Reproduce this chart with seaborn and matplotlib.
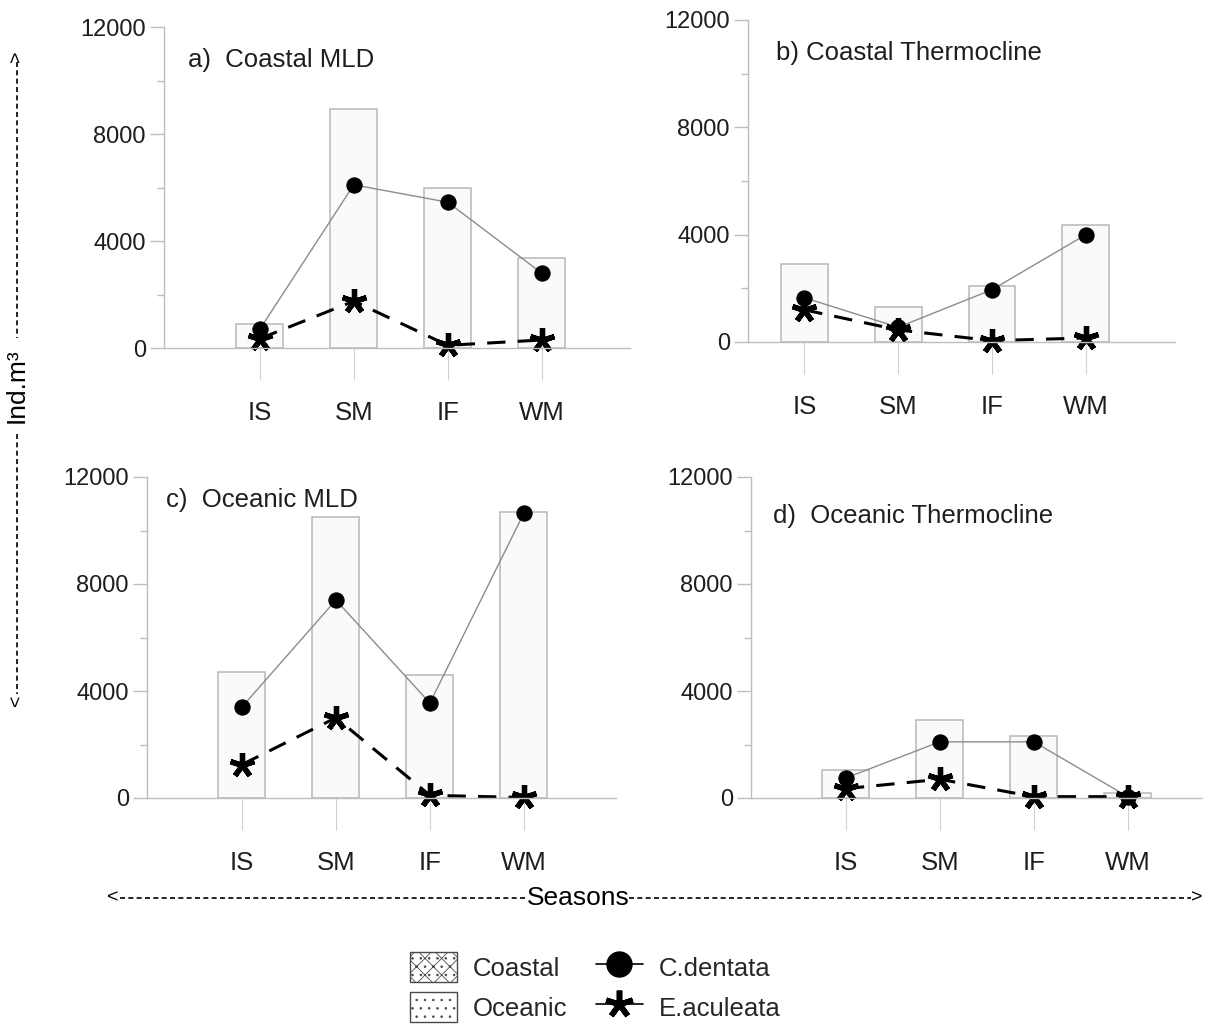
import numpy as np
import pandas as pd
import matplotlib
matplotlib.use("Agg")
import matplotlib.pyplot as plt
from matplotlib.ticker import MultipleLocator, FixedLocator
from matplotlib.lines import Line2D
from matplotlib.patches import Patch
import seaborn as sns

# ---- data -------------------------------------------------------------
seasons = ["IS", "SM", "IF", "WM"]

# total chaetognath abundance (bars), Ind.m^3
coastal_mld_total = [900, 8950, 6000, 3350]
coastal_thermo_total = [2900, 1300, 2100, 4350]
oceanic_mld_total = [4700, 10500, 4600, 10700]
oceanic_thermo_total = [1050, 2900, 2300, 200]

# C. dentata
coastal_mld_cd = [700, 6100, 5450, 2800]
coastal_thermo_cd = [1650, 550, 1950, 4000]
oceanic_mld_cd = [3400, 7400, 3550, 10650]
oceanic_thermo_cd = [750, 2100, 2100, 50]

# E. aculeata
coastal_mld_ea = [350, 1750, 100, 300]
coastal_thermo_ea = [1200, 450, 50, 150]
oceanic_mld_ea = [1250, 3000, 100, 20]
oceanic_thermo_ea = [350, 700, 50, 50]

panel_titles = ["a)  Coastal MLD", "b) Coastal Thermocline",
                "c)  Oceanic MLD", "d)  Oceanic Thermocline"]
y_ticks = [0, 4000, 8000, 12000]
legend_labels = ["Coastal", "Oceanic", "C.dentata", "E.aculeata"]

# ---- style ------------------------------------------------------------
sns.set_theme(style="white")
plt.rcParams["font.family"] = ["Liberation Sans", "DejaVu Sans"]
plt.rcParams["hatch.linewidth"] = 0.6

W, H = 1223, 1027
fig = plt.figure(figsize=(W / 100, H / 100), dpi=100)
fig.patch.set_facecolor("white")


def box(left, top, right, bottom):
    return [left / W, 1 - bottom / H, (right - left) / W, (bottom - top) / H]


panels = [
    dict(rect=box(164, 27, 630, 348), xlim=(-1.02, 3.94), title_xy=(-0.76, 10750),
         total=coastal_mld_total, cd=coastal_mld_cd, ea=coastal_mld_ea),
    dict(rect=box(748, 20, 1175, 342), xlim=(-0.60, 3.95), title_xy=(-0.30, 10760),
         total=coastal_thermo_total, cd=coastal_thermo_cd, ea=coastal_thermo_ea),
    dict(rect=box(147, 477, 616, 798), xlim=(-1.01, 3.98), title_xy=(-0.81, 11130),
         total=oceanic_mld_total, cd=oceanic_mld_cd, ea=oceanic_mld_ea),
    dict(rect=box(751, 477, 1202, 798), xlim=(-1.01, 3.79), title_xy=(-0.78, 10550),
         total=oceanic_thermo_total, cd=oceanic_thermo_cd, ea=oceanic_thermo_ea),
]

axis_grey = "#bdbdbd"
text_col = "#1e1e1e"
fs_tick = 17
fs = 18.5

for p, title in zip(panels, panel_titles):
    ax = fig.add_axes(p["rect"])
    df = pd.DataFrame({"season": seasons, "total": p["total"],
                       "cd": p["cd"], "ea": p["ea"]})
    sns.barplot(data=df, x="season", y="total", order=seasons, width=0.5,
                color="#fafafa", saturation=1, edgecolor="#b8b8b8",
                linewidth=1.1, ax=ax)
    sns.lineplot(data=df, x="season", y="cd", sort=False, errorbar=None,
                 color="#8c8c8c", linewidth=1.0, marker="o", markersize=11,
                 markerfacecolor="black", markeredgecolor="black", ax=ax)
    sns.lineplot(data=df, x="season", y="ea", sort=False, errorbar=None,
                 color="black", linewidth=2.2, linestyle=(0, (6, 4)),
                 marker=(5, 2, 0), markersize=18, markeredgewidth=3.8,
                 markeredgecolor="black", ax=ax)
    for ln in ax.lines:
        ln.set_clip_on(False)

    ax.set_xlim(*p["xlim"])
    ax.set_ylim(0, 12000)
    ax.set_xlabel("")
    ax.set_ylabel("")
    ax.patch.set_alpha(0)
    for s in ["top", "right"]:
        ax.spines[s].set_visible(False)
    for s in ["left", "bottom"]:
        ax.spines[s].set_color(axis_grey)
        ax.spines[s].set_linewidth(1.0)

    ax.yaxis.set_major_locator(FixedLocator(y_ticks))
    ax.yaxis.set_minor_locator(MultipleLocator(2000))
    ax.set_yticklabels([str(v) for v in y_ticks])
    ax.tick_params(axis="y", which="major", left=True, length=10, width=1,
                   color=axis_grey, pad=3, labelsize=fs_tick,
                   labelcolor=text_col)
    ax.tick_params(axis="y", which="minor", left=True, length=5, width=1,
                   color=axis_grey)
    ax.tick_params(axis="x", which="major", bottom=True, length=23, width=0.8,
                   color="#d0d0d0", pad=15, labelsize=fs, labelcolor=text_col)

    ax.text(p["title_xy"][0], p["title_xy"][1], title, fontsize=fs,
            color=text_col, ha="left", va="center")

# ---- shared axis captions drawn as dashed arrows ----------------------
dash = (0, (3, 2))
x_lab = 17
fig.text(x_lab / W, 1 - 386 / H, "Ind.m³", rotation=90, ha="center",
         va="center", fontsize=19, color="black")
fig.add_artist(Line2D([x_lab / W] * 2, [1 - 62 / H, 1 - 338 / H],
                      color="black", lw=1.2, ls=dash))
fig.add_artist(Line2D([x_lab / W] * 2, [1 - 434 / H, 1 - 694 / H],
                      color="black", lw=1.2, ls=dash))
fig.text(x_lab / W, 1 - 56 / H, ">", rotation=90, ha="center", va="center",
         fontsize=14, color="black")
fig.text(x_lab / W, 1 - 700 / H, "<", rotation=90, ha="center", va="center",
         fontsize=14, color="black")

y_lab = 898
fig.text(578 / W, 1 - y_lab / H, "Seasons", ha="center", va="center",
         fontsize=19, color="black")
fig.add_artist(Line2D([120 / W, 528 / W], [1 - y_lab / H] * 2,
                      color="black", lw=1.2, ls=dash))
fig.add_artist(Line2D([629 / W, 1191 / W], [1 - y_lab / H] * 2,
                      color="black", lw=1.2, ls=dash))
fig.text(113 / W, 1 - y_lab / H, "<", ha="center", va="center", fontsize=14,
         color="black")
fig.text(1197 / W, 1 - y_lab / H, ">", ha="center", va="center", fontsize=14,
         color="black")

# ---- legend -------------------------------------------------------------
handles = [
    Patch(facecolor="white", edgecolor="#4a4a4a", hatch="xx..", linewidth=1),
    Patch(facecolor="white", edgecolor="#4a4a4a", hatch="..", linewidth=1),
    Line2D([], [], color="black", lw=1.2, marker="o", markersize=18),
    Line2D([], [], color="black", lw=1.2, marker=(5, 2, 0), markersize=20,
           markeredgewidth=4),
]
fig.legend(handles, legend_labels, ncol=2, loc="center",
           bbox_to_anchor=(595 / W, 1 - 987 / H), frameon=False, fontsize=fs,
           handlelength=1.85, handleheight=1.4, handletextpad=0.6,
           columnspacing=1.1, labelspacing=0.4)

fig.savefig("out.png", dpi=100, facecolor="white")
